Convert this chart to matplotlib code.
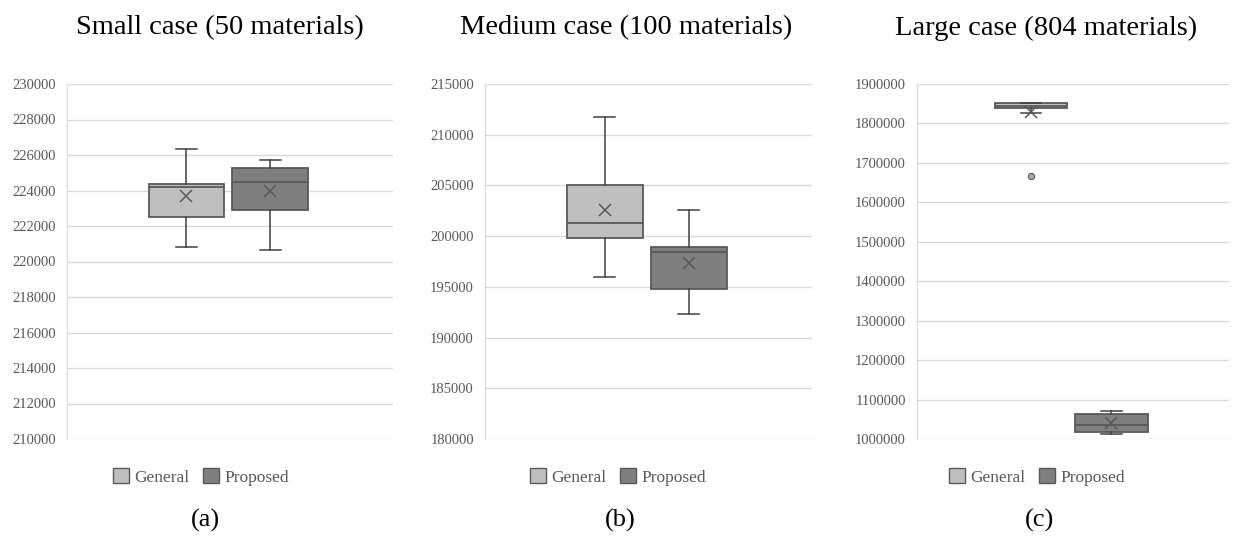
import matplotlib.pyplot as plt
from matplotlib.patches import Patch

plt.rcParams['font.family'] = ['Liberation Serif', 'DejaVu Serif']

# Données : [moustache basse, Q1, médiane, Q3, moustache haute, moyenne]
small_general = [220810, 222480, 224220, 224350, 226360, 223700]
small_proposed = [220660, 222910, 224500, 225290, 225720, 223980]
medium_general = [195990, 199800, 201310, 205090, 211780, 202560]
medium_proposed = [192350, 194740, 198420, 198910, 202590, 197370]
large_general = [1827000, 1840000, 1845000, 1851000, 1851000, 1828000]
large_proposed = [1012600, 1018500, 1035500, 1062600, 1071000, 1040600]
large_general_outliers = [1668000]

titres = ["Small case (50 materials)", "Medium case (100 materials)", "Large case (804 materials)"]
lettres = ["(a)", "(b)", "(c)"]
series = ["General", "Proposed"]
couleurs = ["#BFBFBF", "#7F7F7F"]

limites = [(210000, 230000, 2000), (180000, 215000, 5000), (1000000, 1900000, 100000)]
donnees = [(small_general, small_proposed, []),
           (medium_general, medium_proposed, []),
           (large_general, large_proposed, large_general_outliers)]

positions_axes = [(67, 326), (485, 327), (917, 312)]
centres_titres = [220, 626, 1046]
centres_lettres = [205, 620, 1040]
centres_legendes = [201, 618, 1037]

W, H = 1233, 538
fig = plt.figure(figsize=(W / 100, H / 100), dpi=100)

def stats(v, outliers):
    return dict(whislo=v[0], q1=v[1], med=v[2], q3=v[3], whishi=v[4], mean=v[5], fliers=outliers)

for i in range(3):
    gauche, largeur = positions_axes[i]
    ax = fig.add_axes([gauche / W, 1 - 439 / H, largeur / W, 355 / H])
    gen, prop, out = donnees[i]
    bstats = [stats(gen, out), stats(prop, [])]
    res = ax.bxp(bstats, positions=[0.366, 0.623], widths=0.232, capwidths=0.065,
                 patch_artist=True, showmeans=True, showfliers=True,
                 boxprops=dict(edgecolor="#595959", linewidth=1.3),
                 medianprops=dict(color="#595959", linewidth=1.3),
                 whiskerprops=dict(color="#404040", linewidth=1.1),
                 capprops=dict(color="#404040", linewidth=1.1),
                 meanprops=dict(marker="x", markersize=9, markeredgecolor="#595959",
                                markeredgewidth=1.1),
                 flierprops=dict(marker="o", markersize=4.5, markerfacecolor="#A6A6A6",
                                 markeredgecolor="#595959", markeredgewidth=0.8))
    for patch, c in zip(res["boxes"], couleurs):
        patch.set_facecolor(c)

    bas, haut, pas = limites[i]
    ax.set_xlim(0, 1)
    ax.set_ylim(bas, haut)
    ax.set_yticks(range(bas, haut + 1, pas))
    ax.ticklabel_format(axis="y", style="plain", useOffset=False)
    ax.set_xticks([])
    ax.grid(axis="y", color="#D9D9D9", linewidth=1)
    ax.set_axisbelow(True)
    for cote in ["top", "right", "bottom"]:
        ax.spines[cote].set_visible(False)
    ax.spines["left"].set_color("#D9D9D9")
    ax.tick_params(axis="y", length=0, labelsize=10.5, labelcolor="#595959", pad=8)

    fig.text(centres_titres[i] / W, 1 - 28 / H, titres[i], ha="center", va="center", fontsize=20.5)
    fig.text(centres_lettres[i] / W, 1 - 520 / H, lettres[i], ha="center", va="center", fontsize=19)

    poignees = [Patch(facecolor=c, edgecolor="#595959", linewidth=1) for c in couleurs]
    fig.legend(poignees, series, loc="center", ncol=2, frameon=False,
               bbox_to_anchor=(centres_legendes[i] / W, 1 - 477 / H),
               fontsize=12.5, labelcolor="#595959", handlelength=0.9, handleheight=0.9,
               handletextpad=0.3, columnspacing=0.8)

fig.savefig("out.png", dpi=100)
